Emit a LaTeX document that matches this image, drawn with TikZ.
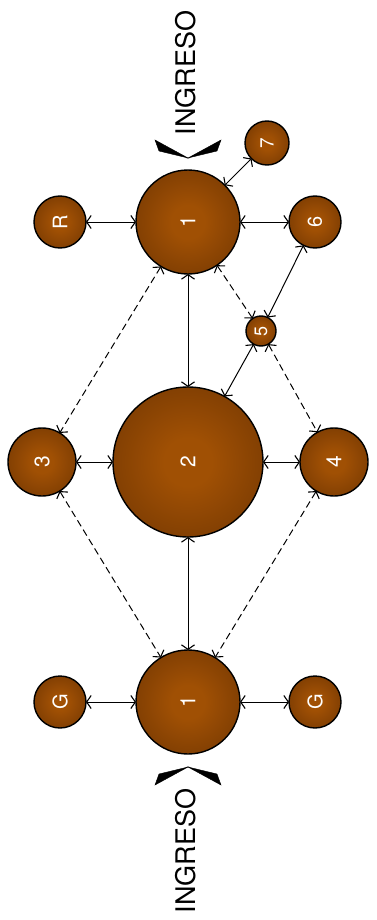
\documentclass[tikz,border=0pt]{standalone}
\usepackage{fontspec}
\setmainfont{TeX Gyre Heros}
\usetikzlibrary{arrows.meta}
\definecolor{bIn}{RGB}{160,80,4}
\definecolor{bOut}{RGB}{88,40,2}
\pgfdeclareradialshading{brownball}{\pgfpoint{0bp}{0bp}}{color(0bp)=(bIn); color(8bp)=(bIn); color(50bp)=(bOut)}
\begin{document}
\begin{tikzpicture}[x=1pt,y=-1pt,
  ball/.style={circle,draw=black,line width=1.4pt,shading=brownball,inner sep=0pt,outer sep=0pt,
    text=white,font=\fontsize{21}{21}\selectfont,rotate=90},
  link/.style={line width=1pt,<->,>={Straight Barb[length=4.5pt,width=13pt,line width=1.1pt]}},
  dlink/.style={link,dash pattern=on 7pt off 4pt},
  wing/.style={fill=black,draw=black,line width=0.4pt,line join=miter},
  lbl/.style={font=\fontsize{27}{27}\selectfont,rotate=90,inner sep=0pt}
]
\useasboundingbox (0,0) rectangle (376,920);
% nodes
\node[ball,minimum size=104pt] (t1) at (188,222) {1};
\node[ball,minimum size=52pt,font=\fontsize{20}{20}\selectfont] (R) at (60,222) {R};
\node[ball,minimum size=52pt,font=\fontsize{20}{20}\selectfont] (n6) at (315,222) {6};
\node[ball,minimum size=44pt,font=\fontsize{19}{19}\selectfont] (n7) at (267,143) {7};
\node[ball,minimum size=30pt,font=\fontsize{18}{18}\selectfont] (n5) at (261,331) {5};
\node[ball,minimum size=150pt] (n2) at (188,462) {2};
\node[ball,minimum size=68pt] (n3) at (42,462) {3};
\node[ball,minimum size=68pt] (n4) at (334,462) {4};
\node[ball,minimum size=104pt] (b1) at (188,702) {1};
\node[ball,minimum size=52pt,font=\fontsize{20}{20}\selectfont] (gl) at (60,702) {G};
\node[ball,minimum size=52pt,font=\fontsize{20}{20}\selectfont] (gr) at (315,702) {G};
% labels
\node[lbl] (ingt) at (186,73) {INGRESO};
\node[lbl] (ingb) at (186,851) {INGRESO};
% entry chevrons
\coordinate (tt) at (188,158);
\coordinate (bt) at (188,767);
\filldraw[wing] (tt) -- (155,140) -- (159,151) -- cycle;
\filldraw[wing] (tt) -- (221,140) -- (217,151) -- cycle;
\filldraw[wing] (bt) -- (155,785) -- (159,774) -- cycle;
\filldraw[wing] (bt) -- (221,785) -- (217,774) -- cycle;
% connectors
\draw[link] (t1) -- (R);
\draw[link] (t1) -- (n6);
\draw[link] (t1) -- (n7);
\draw[link] (t1) -- (n2);
\draw[dlink] (t1) -- (n3);
\draw[dlink] (t1) -- (n5);
\draw[dlink] (n5) -- (n4);
\draw[link] (n6) -- (n5);
\draw[link] (n5) -- (n2);
\draw[link] (n2) -- (n3);
\draw[link] (n2) -- (n4);
\draw[dlink] (n3) -- (b1);
\draw[dlink] (n4) -- (b1);
\draw[link] (n2) -- (b1);
\draw[link] (b1) -- (gl);
\draw[link] (b1) -- (gr);
\end{tikzpicture}
\end{document}
